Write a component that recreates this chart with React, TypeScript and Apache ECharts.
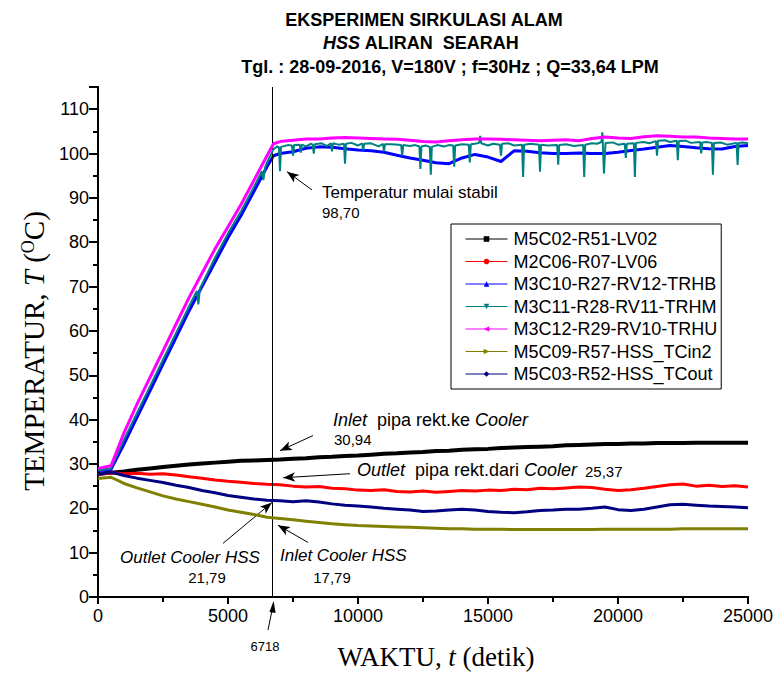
import React, { useEffect, useRef } from 'react';
import * as echarts from 'echarts';

const SANS = '"Liberation Sans", Arial, Helvetica, sans-serif';
const SERIF = '"Liberation Serif", "Times New Roman", Times, serif';

// Time axis (seconds) for the cooler-side series
const TIME = [0, 500, 1000, 1500, 2000, 2500, 3000, 3500, 4000, 4500, 5000, 5500, 6000, 6500, 7000, 7500, 8000, 8500, 9000, 9500, 10000, 10500, 11000, 11500, 12000, 12500, 13000, 13500, 14000, 14500, 15000, 15500, 16000, 16500, 17000, 17500, 18000, 18500, 19000, 19500, 20000, 20500, 21000, 21500, 22000, 22500, 23000, 23500, 24000, 24500, 25000];

const LV02 = [27.8, 28.0, 28.3, 28.7, 29.0, 29.3, 29.6, 29.9, 30.1, 30.3, 30.5, 30.7, 30.8, 30.9, 31.0, 31.2, 31.3, 31.5, 31.6, 31.8, 31.9, 32.1, 32.3, 32.4, 32.6, 32.7, 32.9, 33.0, 33.2, 33.3, 33.4, 33.6, 33.7, 33.8, 33.9, 34.0, 34.2, 34.3, 34.4, 34.5, 34.5, 34.6, 34.6, 34.7, 34.7, 34.7, 34.8, 34.8, 34.8, 34.8, 34.8];
const LV06 = [27.6, 28.0, 27.8, 27.9, 27.7, 27.8, 27.5, 27.1, 26.8, 26.4, 26.1, 25.9, 25.6, 25.4, 25.3, 25.0, 24.8, 24.9, 24.5, 24.4, 24.1, 24.0, 24.2, 23.8, 23.7, 23.9, 23.6, 23.8, 24.0, 23.9, 24.1, 24.0, 24.3, 24.2, 24.5, 24.4, 24.6, 24.8, 24.7, 24.3, 24.0, 24.2, 24.5, 24.9, 25.3, 25.5, 25.0, 25.2, 24.9, 25.1, 24.8];
const TCIN2 = [26.7, 27.0, 25.6, 24.6, 23.7, 22.8, 22.1, 21.5, 20.9, 20.3, 19.6, 19.1, 18.6, 18.0, 17.7, 17.4, 17.1, 16.8, 16.5, 16.3, 16.1, 16.0, 15.9, 15.8, 15.7, 15.6, 15.5, 15.4, 15.4, 15.3, 15.3, 15.3, 15.2, 15.2, 15.2, 15.2, 15.2, 15.2, 15.2, 15.3, 15.3, 15.3, 15.3, 15.3, 15.3, 15.4, 15.4, 15.4, 15.4, 15.4, 15.4];
const TCOUT = [27.6, 28.2, 27.4, 26.8, 26.3, 25.8, 25.2, 24.7, 24.0, 23.5, 22.9, 22.5, 22.1, 21.8, 21.7, 21.5, 21.7, 21.4, 21.0, 20.7, 20.5, 20.3, 20.0, 19.8, 19.6, 19.3, 19.4, 19.6, 19.8, 19.6, 19.3, 19.1, 19.0, 19.2, 19.5, 19.6, 19.8, 19.8, 20.0, 20.3, 19.7, 19.5, 19.8, 20.3, 20.8, 20.9, 20.7, 20.5, 20.4, 20.3, 20.1];

// Time axis for the heater-side series
const TIME_HOT = [0, 500, 1000, 1500, 2000, 2500, 3000, 3500, 4000, 4500, 5000, 5500, 6000, 6500, 6750, 7000, 7500, 8000, 8500, 9000, 9500, 10000, 10500, 11000, 11500, 12000, 12500, 13000, 13500, 14000, 14500, 15000, 15500, 16000, 16500, 17000, 17500, 18000, 18500, 19000, 19500, 20000, 20500, 21000, 21500, 22000, 22500, 23000, 23500, 24000, 24500, 25000];
const TRHB = [28.5, 28.8, 34.5, 40.5, 46.5, 52.5, 58.5, 64.5, 70.0, 75.5, 81.0, 86.0, 91.5, 97.0, 99.5, 100.0, 100.4, 101.2, 101.5, 101.4, 101.1, 100.8, 100.6, 100.3, 99.6, 99.0, 98.5, 97.9, 97.7, 99.0, 99.8, 99.2, 98.2, 100.6, 100.5, 100.2, 100.0, 100.0, 100.1, 100.0, 100.0, 100.3, 100.7, 101.0, 101.4, 101.8, 101.6, 101.3, 101.1, 101.0, 101.6, 101.8];
const TRHU = [29.0, 29.6, 37.0, 43.5, 49.5, 55.5, 61.5, 67.5, 73.0, 78.5, 83.5, 88.5, 94.0, 99.5, 102.2, 102.7, 103.0, 103.3, 103.3, 103.5, 103.6, 103.5, 103.4, 103.3, 103.2, 103.0, 102.7, 102.6, 102.9, 103.1, 103.3, 103.3, 103.2, 103.1, 103.0, 102.9, 103.0, 103.1, 102.9, 103.4, 103.7, 103.5, 103.4, 103.8, 104.0, 103.9, 103.7, 103.7, 103.5, 103.4, 103.3, 103.3];

// Middle heater thermocouple (noisy, with dips)
const TIME_TRHM = [0, 500, 1000, 1500, 2000, 2500, 3000, 3500, 3800, 3860, 3920, 4000, 4500, 5000, 5500, 6000, 6300, 6360, 6420, 6500,
  6750, 6900, 6960, 7000, 7040, 7300, 7460, 7500, 7540, 7760, 7800, 7840, 8000, 8200, 8260, 8300, 8340, 8600, 8800, 8960, 9000, 9040, 9250, 9460, 9500, 9540, 9750,
  10000, 10160, 10200, 10240, 10500, 10800, 10960, 11000, 11040, 11300, 11660, 11700, 11740, 12000, 12200, 12360, 12400, 12440, 12600, 12760, 12800, 12840, 13050,
  13300, 13500, 13660, 13700, 13740, 14000, 14260, 14300, 14340, 14500, 14660, 14700, 14740, 15000, 15200, 15460, 15500, 15540, 15800, 16000, 16310, 16350, 16390,
  16650, 16960, 17000, 17040, 17300, 17660, 17700, 17740, 18000, 18300, 18660, 18700, 18740, 19000, 19200, 19360, 19400, 19460, 19520, 19800, 20000, 20260, 20300,
  20340, 20610, 20650, 20690, 21000, 21200, 21460, 21500, 21540, 21800, 22000, 22260, 22300, 22340, 22600, 22800, 23160, 23200, 23240, 23400, 23610, 23650, 23690,
  23950, 24200, 24560, 24600, 24640, 24800, 25000];
const TRHM = [28.6, 29.0, 35.5, 41.5, 47.5, 53.5, 59.5, 65.5, 69.0, 66.0, 69.5, 70.5, 76.5, 82.0, 87.0, 92.5, 96.0, 94.0, 96.7, 98.0,
  101.0, 101.6, 101.4, 96.0, 101.5, 101.9, 101.8, 99.5, 101.9, 102.0, 100.2, 102.0, 101.6, 102.2, 102.0, 100.0, 102.1, 102.3, 101.7, 102.3, 100.5, 102.3, 102.0, 102.2, 97.7, 102.2, 102.4,
  101.8, 102.3, 100.8, 102.2, 102.3, 101.6, 102.2, 100.5, 102.1, 102.1, 101.9, 99.5, 101.9, 101.7, 101.9, 101.6, 96.5, 101.6, 101.8, 101.5, 95.2, 101.5, 101.9,
  101.6, 101.9, 101.8, 97.0, 101.8, 102.1, 102.0, 98.0, 102.1, 102.2, 102.4, 104.0, 102.3, 101.8, 102.2, 102.0, 99.5, 102.2, 102.3, 101.8, 102.0, 94.7, 102.0,
  102.2, 102.0, 95.9, 102.0, 101.8, 101.9, 97.5, 101.9, 102.1, 101.7, 101.9, 94.7, 102.0, 102.3, 102.2, 102.6, 104.8, 95.5, 102.4, 102.5, 102.0, 102.2, 99.0,
  102.2, 102.3, 94.7, 102.4, 102.6, 102.3, 102.8, 99.5, 102.9, 103.0, 102.6, 102.9, 98.5, 102.8, 102.9, 102.4, 102.6, 100.0, 102.5, 102.6, 102.4, 95.2, 102.4,
  102.5, 102.0, 102.4, 97.4, 102.4, 102.5, 102.3];

const SERIES_NAMES = ['M5C02-R51-LV02', 'M2C06-R07-LV06', 'M3C10-R27-RV12-TRHB', 'M3C11-R28-RV11-TRHM', 'M3C12-R29-RV10-TRHU', 'M5C09-R57-HSS_TCin2', 'M5C03-R52-HSS_TCout'];
const COLORS = ['#000000', '#ff0000', '#0000ff', '#008080', '#ff00ff', '#808000', '#000080'];
const SYMBOLS = ['rect', 'circle', 'triangle', 'path://M0,0L10,0L5,10Z', 'path://M10,0L10,10L0,5Z', 'path://M0,0L10,5L0,10Z', 'diamond'];

const T_STABLE = 6718;
const Y_MIN = 0;
const Y_MAX = 115;

const zip = (t: number[], v: number[]) => t.map((x, i) => [x, v[i]]);

export default function App() {
  const ref = useRef<HTMLDivElement>(null);
  useEffect(() => {
    const chart = echarts.init(ref.current!, null, { renderer: 'svg' });
    const datasets = [
      zip(TIME, LV02),
      zip(TIME, LV06),
      zip(TIME_HOT, TRHB),
      zip(TIME_TRHM, TRHM),
      zip(TIME_HOT, TRHU),
      zip(TIME, TCIN2),
      zip(TIME, TCOUT),
    ];
    const widths = [4, 3, 3, 2, 3, 3, 3];
    const series: any[] = datasets.map((d, i) => ({
      name: SERIES_NAMES[i],
      type: 'line',
      data: d,
      showSymbol: false,
      symbol: SYMBOLS[i],
      symbolSize: 5,
      color: COLORS[i],
      lineStyle: { width: widths[i], color: COLORS[i] },
      itemStyle: { color: COLORS[i] },
      silent: true,
      z: 2 + i,
    }));
    const seg = (from: number[], to: number[], tip: string) => [
      { coord: from, symbol: 'none' },
      { coord: to, symbol: tip },
    ];
    series[6].markLine = {
      silent: true,
      animation: false,
      symbol: ['none', 'none'],
      symbolSize: [7, 12],
      label: { show: false },
      lineStyle: { color: '#000', width: 1, type: 'solid' },
      data: [
        seg([T_STABLE, Y_MIN], [T_STABLE, Y_MAX], 'none'),
        seg([8230, 91.8], [7270, 95.9], 'arrow'),
        seg([8270, 36.4], [7000, 33.0], 'arrow'),
        seg([9690, 27.8], [7120, 26.9], 'arrow'),
        seg([4810, 12.1], [6690, 21.3], 'arrow'),
        seg([8080, 12.3], [6920, 16.2], 'arrow'),
      ],
    };

    const tickFont = { fontFamily: SANS, fontSize: 18, color: '#000' };
    const option: any = {
      animation: false,
      backgroundColor: '#fff',
      grid: { left: 98, right: 30, top: 87, bottom: 89 },
      legend: {
        data: SERIES_NAMES,
        orient: 'vertical',
        left: 451,
        top: 224,
        padding: [6, 4, 6, 14],
        itemGap: 4.5,
        itemWidth: 42,
        itemHeight: 7,
        borderColor: '#000',
        borderWidth: 1,
        lineStyle: { width: 1 },
        textStyle: { fontFamily: SANS, fontSize: 18, color: '#000', padding: [0, 0, 0, 1] },
        selectedMode: false,
      },
      xAxis: [
        {
          type: 'value', min: 0, max: 25000, interval: 5000,
          axisLine: { show: true, lineStyle: { color: '#000', width: 2 } },
          axisTick: { show: true, inside: false, length: 7, lineStyle: { color: '#000', width: 2 } },
          minorTick: { show: true, splitNumber: 2, length: 5, lineStyle: { color: '#000', width: 2 } },
          axisLabel: { ...tickFont, margin: 10, formatter: (v: number) => String(v) },
          splitLine: { show: false },
          name: '{a|WAKTU, }{i|t}{a| (detik)}',
          nameLocation: 'middle',
          nameGap: 46,
          nameTextStyle: {
            padding: [0, 0, 0, 26],
            rich: {
              a: { fontFamily: SERIF, fontSize: 27, color: '#000' },
              i: { fontFamily: SERIF, fontSize: 27, fontStyle: 'italic', color: '#000' },
            },
          },
        },
        {
          type: 'value', min: 0, max: 25000, interval: 5000, position: 'top',
          axisLine: { show: true, lineStyle: { color: '#000', width: 2 } },
          axisTick: { show: true, inside: true, length: 7, lineStyle: { color: '#000', width: 2 } },
          minorTick: { show: true, splitNumber: 2, length: 4, lineStyle: { color: '#000', width: 2 } },
          axisLabel: { show: false },
          splitLine: { show: false },
        },
      ],
      yAxis: [
        {
          type: 'value', min: Y_MIN, max: Y_MAX, interval: 10,
          axisLine: { show: true, lineStyle: { color: '#000', width: 2 } },
          axisTick: { show: true, inside: false, length: 7, lineStyle: { color: '#000', width: 2 } },
          minorTick: { show: true, splitNumber: 2, length: 4, lineStyle: { color: '#000', width: 2 } },
          axisLabel: { ...tickFont, margin: 9, showMaxLabel: false },
          splitLine: { show: false },
          name: '{a|TEMPERATUR, }{i|T}{a| (}{s|O}{a|C)}',
          nameLocation: 'middle',
          nameRotate: 90,
          nameGap: 48,
          nameTextStyle: {
            padding: [0, 18, 0, 0],
            rich: {
              a: { fontFamily: SERIF, fontSize: 29, color: '#000' },
              i: { fontFamily: SERIF, fontSize: 29, fontStyle: 'italic', color: '#000' },
              s: { fontFamily: SERIF, fontSize: 18, color: '#000', verticalAlign: 'top', padding: [0, 0, 10, 0] },
            },
          },
        },
        {
          type: 'value', min: Y_MIN, max: Y_MAX, interval: 10, position: 'right',
          axisLine: { show: true, lineStyle: { color: '#000', width: 2 } },
          axisTick: { show: true, inside: true, length: 9, lineStyle: { color: '#000', width: 2 } },
          minorTick: { show: true, splitNumber: 2, length: 5, lineStyle: { color: '#000', width: 2 } },
          axisLabel: { show: false },
          splitLine: { show: false },
        },
      ],
      series,
      graphic: [
        { type: 'text', x: 424, y: 20, style: { text: 'EKSPERIMEN SIRKULASI ALAM', font: `bold 18px ${SANS}`, fill: '#000', align: 'center', verticalAlign: 'middle' } },
        { type: 'text', x: 421, y: 43, style: { text: '{i|HSS} ALIRAN  SEARAH', font: `bold 18px ${SANS}`, fill: '#000', align: 'center', verticalAlign: 'middle', rich: { i: { fontStyle: 'italic', fontWeight: 'bold', fontFamily: SANS, fontSize: 18 } } } },
        { type: 'text', x: 450, y: 67, style: { text: 'Tgl. : 28-09-2016, V=180V ; f=30Hz ; Q=33,64 LPM', font: `bold 18px ${SANS}`, fill: '#000', align: 'center', verticalAlign: 'middle' } },

        { type: 'text', x: 322, y: 192, style: { text: 'Temperatur mulai stabil', font: `17px ${SANS}`, fill: '#000', verticalAlign: 'middle' } },
        { type: 'text', x: 322, y: 212, style: { text: '98,70', font: `15px ${SANS}`, fill: '#000', verticalAlign: 'middle' } },

        { type: 'text', x: 333, y: 420, style: { text: '{i|Inlet}  pipa rekt.ke {i|Cooler}', font: `18px ${SANS}`, fill: '#000', verticalAlign: 'middle', rich: { i: { fontStyle: 'italic', fontFamily: SANS, fontSize: 18 } } } },
        { type: 'text', x: 334, y: 439, style: { text: '30,94', font: `15px ${SANS}`, fill: '#000', verticalAlign: 'middle' } },

        { type: 'text', x: 357, y: 470, style: { text: '{i|Outlet}  pipa rekt.dari {i|Cooler}', font: `18px ${SANS}`, fill: '#000', verticalAlign: 'middle', rich: { i: { fontStyle: 'italic', fontFamily: SANS, fontSize: 18 } } } },
        { type: 'text', x: 585, y: 471, style: { text: '25,37', font: `15px ${SANS}`, fill: '#000', verticalAlign: 'middle' } },

        { type: 'text', x: 190, y: 557, style: { text: 'Outlet Cooler HSS', font: `italic 17px ${SANS}`, fill: '#000', align: 'center', verticalAlign: 'middle' } },
        { type: 'text', x: 207, y: 577, style: { text: '21,79', font: `15px ${SANS}`, fill: '#000', align: 'center', verticalAlign: 'middle' } },
        { type: 'text', x: 280, y: 555, style: { text: 'Inlet Cooler HSS', font: `italic 17px ${SANS}`, fill: '#000', verticalAlign: 'middle' } },
        { type: 'text', x: 332, y: 577, style: { text: '17,79', font: `15px ${SANS}`, fill: '#000', align: 'center', verticalAlign: 'middle' } },

        { type: 'line', shape: { x1: 268, y1: 630, x2: 272.5, y2: 608 }, style: { stroke: '#000', lineWidth: 1 } },
        { type: 'polygon', shape: { points: [[273.6, 601], [269.4, 612], [275.6, 613]] }, style: { fill: '#000' } },
        { type: 'text', x: 265, y: 646, style: { text: '6718', font: `13px ${SANS}`, fill: '#000', align: 'center', verticalAlign: 'middle' } },
      ],
    };
    chart.setOption(option);
    return () => chart.dispose();
  }, []);
  return <div ref={ref} style={{ position: 'absolute', left: 0, top: 0, width: 778, height: 686 }} />;
}
